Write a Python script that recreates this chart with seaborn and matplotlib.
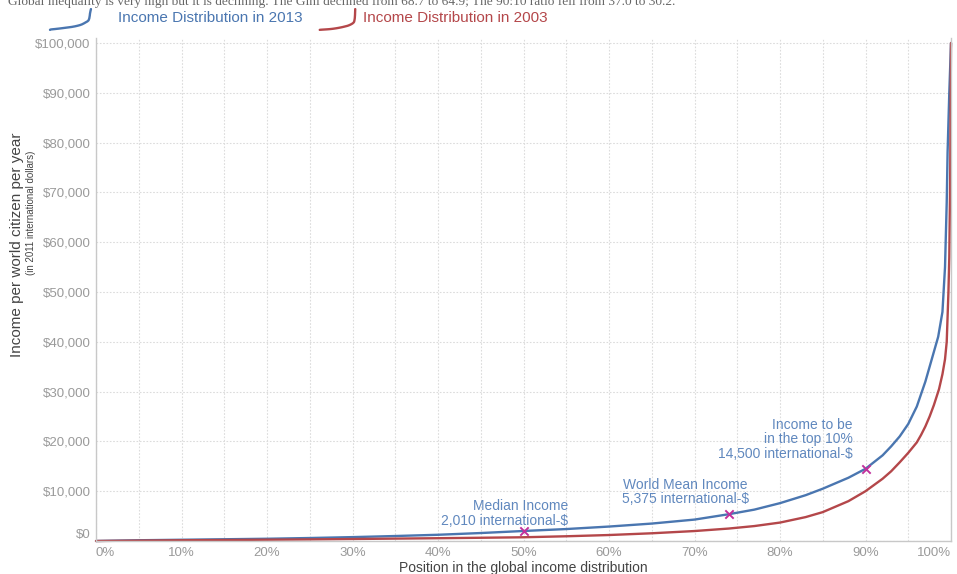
import numpy as np
import pandas as pd
import matplotlib
matplotlib.use('Agg')
import matplotlib.pyplot as plt
from matplotlib.ticker import MultipleLocator
import seaborn as sns

# percentile position -> income (2011 international-$)
pct_2013 = [0, 5, 10, 15, 20, 25, 30, 35, 40, 45, 50, 55, 60, 65, 70, 74, 77, 80, 83, 85, 88, 90,
            92, 93, 94, 95, 96, 96.5, 97, 97.5, 98, 98.5, 99, 99.3, 99.5, 99.6, 99.8, 100]
inc_2013 = [0, 150, 250, 350, 450, 600, 780, 1000, 1250, 1600, 2010, 2400, 2900, 3500, 4300, 5375,
            6300, 7600, 9200, 10500, 12700, 14500, 17200, 19000, 21000, 23500, 27000, 29500, 32000,
            35000, 38000, 41000, 46000, 55000, 68000, 78000, 90000, 100000]

pct_2003 = [0, 5, 10, 15, 20, 25, 30, 35, 40, 45, 50, 55, 60, 65, 70, 74, 77, 80, 83, 85, 88, 90,
            92, 93, 94, 95, 96, 96.5, 97, 97.5, 98, 98.6, 99, 99.3, 99.5, 99.7, 99.8, 99.9, 100]
inc_2003 = [0, 80, 150, 200, 260, 320, 400, 480, 560, 650, 750, 950, 1200, 1550, 2000, 2500, 3000,
            3700, 4800, 5800, 8000, 10000, 12500, 14000, 15800, 17700, 19800, 21300, 23000, 25000,
            27300, 30500, 33500, 36500, 40000, 50000, 57000, 72000, 100000]

# annotated points on the 2013 curve
marker_pct = [50, 74, 90]
marker_inc = [2010, 5375, 14500]
marker_txt = ["Median Income\n2,010 international-$",
              "World Mean Income\n5,375 international-$",
              "Income to be\nin the top 10%\n14,500 international-$"]

x_ticks = list(range(0, 101, 10))
x_labels = [f"{v}%" for v in x_ticks]
y_ticks = list(range(0, 100001, 10000))
y_labels = [f"${v:,}" for v in y_ticks]

series_names = ["Income Distribution in 2013", "Income Distribution in 2003"]
colors = {"Income Distribution in 2013": "#4a76b0", "Income Distribution in 2003": "#b4474a"}

df = pd.concat([
    pd.DataFrame({"pct": pct_2013, "income": inc_2013, "series": series_names[0]}),
    pd.DataFrame({"pct": pct_2003, "income": inc_2003, "series": series_names[1]}),
])

sns.set_theme(style="white")
plt.rcParams['font.family'] = ['Liberation Sans', 'DejaVu Sans']

fig = plt.figure(figsize=(9.57, 5.74), dpi=100)
ax = fig.add_axes([96 / 957, 33 / 574, 855 / 957, 503 / 574])

sns.lineplot(data=df, x="pct", y="income", hue="series", palette=colors,
             linewidth=1.7, legend=False, ax=ax, sort=False, clip_on=False)

sns.scatterplot(x=marker_pct, y=marker_inc, marker="x", color="#c2309c", s=36,
                linewidth=1.4, ax=ax, zorder=5)

# annotations
offsets = [(45, 3), (-43, 8), (-13, 8)]
aligns = ["right", "center", "right"]
for x, y, t, off, ha in zip(marker_pct, marker_inc, marker_txt, offsets, aligns):
    ax.annotate(t, (x, y), xytext=off, textcoords="offset pixels", ha=ha, va="bottom",
                multialignment=ha, fontsize=10, color="#6088be", linespacing=1.05)

ax.set_xlim(0, 100)
ax.set_ylim(0, 101000)
ax.set_xticks(x_ticks, x_labels)
ax.set_yticks(y_ticks, y_labels)
ax.xaxis.set_minor_locator(MultipleLocator(5))
ax.grid(True, which="both", axis="x", linestyle=(0, (1.5, 1.5)), color="#dcdcdc", linewidth=0.8)
ax.grid(True, which="major", axis="y", linestyle=(0, (1.5, 1.5)), color="#dcdcdc", linewidth=0.8)
ax.tick_params(axis="both", which="both", length=0, labelsize=9.5, labelcolor="#9a9a9a")
ax.tick_params(axis="x", pad=4)
ax.tick_params(axis="y", pad=4)
ylabs = ax.get_yticklabels()
ylabs[0].set_va("bottom")
xlabs = ax.get_xticklabels()
xlabs[0].set_ha("left")
xlabs[-1].set_ha("right")

for side in ["left", "bottom", "right"]:
    ax.spines[side].set_color("#c8c8c8")
    ax.spines[side].set_linewidth(1.0)
ax.spines["top"].set_visible(False)

ax.set_xlabel("Position in the global income distribution", fontsize=10, color="#444444", labelpad=2)
ax.set_ylabel("")
fig.text(17 / 957, 1 - 245 / 574, "Income per world citizen per year", rotation=90,
         ha="center", va="center", fontsize=11, color="#444444")
fig.text(31 / 957, 1 - 213 / 574, "(in 2011 international dollars)", rotation=90,
         ha="center", va="center", fontsize=7, color="#444444")

# title line cut off at the top of the figure, as in the reference
fig.text(8 / 957, 1 - 5 / 574, "Global inequality is very high but it is declining. The Gini declined "
         "from 68.7 to 64.9; The 90:10 ratio fell from 37.0 to 30.2.",
         family=["Liberation Serif"], fontsize=9.6, color="#666666", va="baseline", ha="left")

# legend: mini copies of each curve followed by the label
legend_spec = [(48, 45, 118, series_names[0], pct_2013, inc_2013),
               (318, 39, 363, series_names[1], pct_2003, inc_2003)]
for gx, gw, tx, name, xs, ys in legend_spec:
    gax = fig.add_axes([gx / 957, 1 - 31 / 574, gw / 957, 23 / 574])
    sns.lineplot(x=np.array(xs) ** 6, y=ys, color=colors[name], linewidth=1.7, ax=gax)
    gax.set_axis_off()
    fig.text(tx / 957, 1 - 18 / 574, name, fontsize=11, color=colors[name], va="center", ha="left")

fig.savefig("out.png", dpi=100)
